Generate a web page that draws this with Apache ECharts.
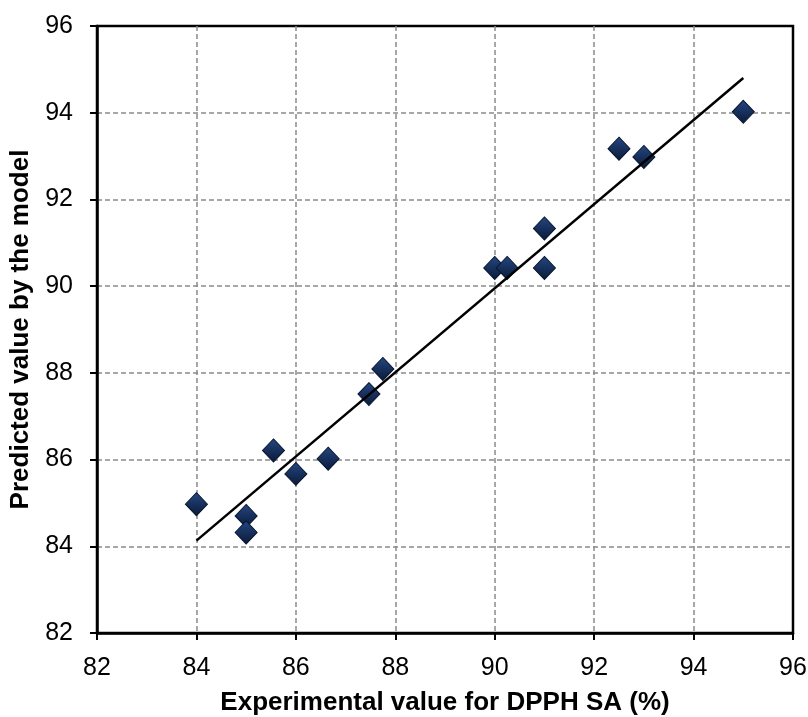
<!DOCTYPE html>
<html>
<head>
<meta charset="utf-8">
<title>DPPH SA</title>
<script src="https://cdn.jsdelivr.net/npm/echarts@6/dist/echarts.min.js"></script>
<style>
  body { margin: 0; background: #fff; }
  #chart { width: 808px; height: 717px; }
</style>
</head>
<body>
<div id="chart"></div>
<script>
// experimental vs predicted values
var expX = [84, 85, 85, 85.55, 86, 86.65, 87.47, 87.75, 90, 90.25, 91, 91, 92.5, 93, 95];
var predY = [84.97, 84.7, 84.32, 86.21, 85.67, 86.02, 87.51, 88.09, 90.42, 90.42, 91.33, 90.42, 93.17, 92.98, 94.02];
// trend line end points
var fitX = [84, 95];
var fitY = [84.13, 94.8];
// axis range
var axisMin = 82, axisMax = 96, axisStep = 2;

var font = 'Liberation Sans, Arial, sans-serif';

var points = expX.map(function (x, i) { return [x, predY[i]]; });
var fitLine = fitX.map(function (x, i) { return [x, fitY[i]]; });

var chart = echarts.init(document.getElementById('chart'));

var gridLine = {
    show: true,
    showMinLine: false,
    showMaxLine: false,
    lineStyle: { color: '#8a8a8a', width: 1.5, type: [5, 3] }
};

chart.setOption({
    animation: false,
    grid: {
        left: 97, right: 15, top: 26, bottom: 84,
        containLabel: false,
        outerBoundsMode: 'none',
        show: true, borderColor: '#000', borderWidth: 2.5
    },
    xAxis: {
        type: 'value',
        min: axisMin, max: axisMax, interval: axisStep,
        name: 'Experimental value for DPPH SA (%)',
        nameLocation: 'middle',
        nameGap: 57,
        nameTextStyle: { fontFamily: font, fontSize: 26, fontWeight: 'bold', color: '#000' },
        axisLine: { lineStyle: { color: '#000', width: 2.5 } },
        axisTick: { show: true, length: 7, lineStyle: { color: '#000', width: 2 } },
        axisLabel: { fontFamily: font, fontSize: 25, color: '#000', margin: 23 },
        splitLine: gridLine
    },
    yAxis: {
        type: 'value',
        min: axisMin, max: axisMax, interval: axisStep,
        name: 'Predicted value by the model',
        nameLocation: 'middle',
        nameGap: 58,
        nameTextStyle: { fontFamily: font, fontSize: 26, fontWeight: 'bold', color: '#000' },
        axisLine: { show: true, lineStyle: { color: '#000', width: 2.5 } },
        axisTick: { show: true, length: 7, lineStyle: { color: '#000', width: 2 } },
        axisLabel: { fontFamily: font, fontSize: 25, color: '#000', margin: 24 },
        splitLine: gridLine
    },
    series: [
        {
            type: 'scatter',
            data: points,
            symbol: 'diamond',
            symbolSize: [22, 23],
            itemStyle: {
                opacity: 1,
                color: new echarts.graphic.LinearGradient(0, 0, 0, 1, [
                    { offset: 0, color: '#244884' },
                    { offset: 0.5, color: '#17305c' },
                    { offset: 1, color: '#0b1a38' }
                ]),
                borderColor: '#0a1630',
                borderWidth: 1
            },
            z: 2
        },
        {
            type: 'line',
            data: fitLine,
            symbol: 'none',
            lineStyle: { color: '#000', width: 2.5 },
            z: 3
        }
    ]
});
</script>
</body>
</html>
